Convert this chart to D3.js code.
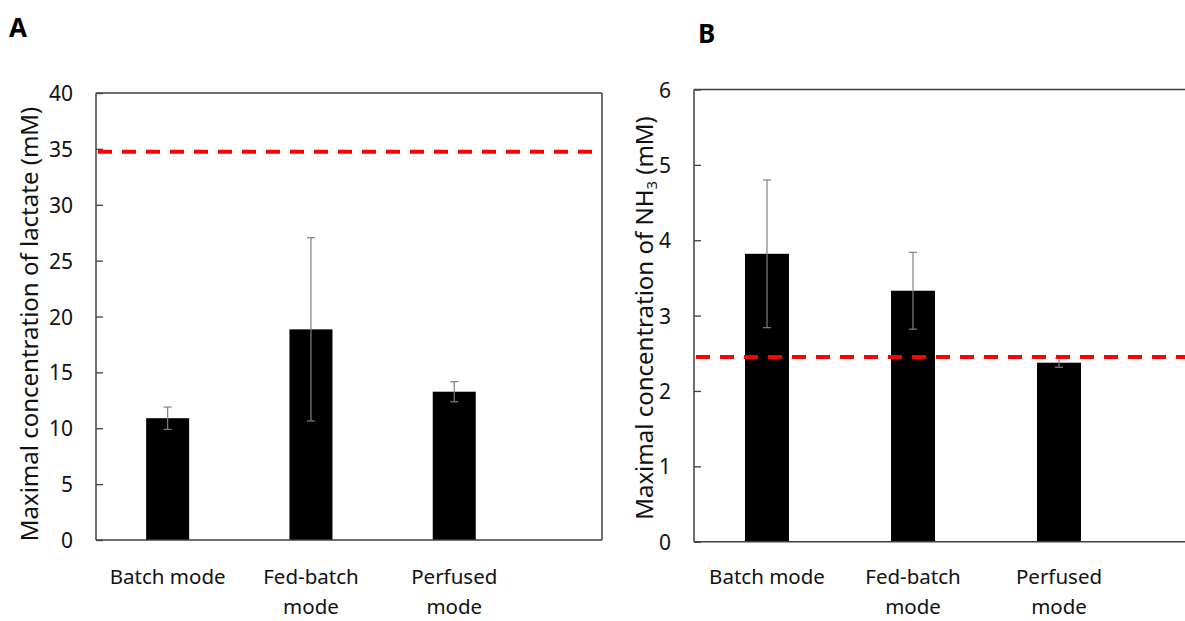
<!DOCTYPE html>
<html>
<head>
<meta charset="utf-8">
<script src="https://cdn.jsdelivr.net/npm/d3@7"></script>
<style>
  html, body { margin: 0; padding: 0; background: #fff; }
  svg { display: block; }
  svg text { font-family: "Noto Sans", "Open Sans", Lato, sans-serif; }
</style>
</head>
<body>
<svg id="chart" width="1185" height="621"></svg>
<script>
// ---- data ----
const categories = ["Batch mode", "Fed-batch mode", "Perfused mode"];
const categoryLabelLines = [["Batch mode"], ["Fed-batch", "mode"], ["Perfused", "mode"]];

const lactateValues = [10.9, 18.85, 13.27];
const lactateErrors = [1.0, 8.2, 0.9];
const lactateLimit = 34.75;
const lactateTicks = [0, 5, 10, 15, 20, 25, 30, 35, 40];

const ammoniaValues = [3.82, 3.33, 2.375];
const ammoniaErrors = [0.98, 0.51, 0.06];
const ammoniaLimit = 2.45;
const ammoniaTicks = [0, 1, 2, 3, 4, 5, 6];

const svg = d3.select("#chart");

function drawPanel(cfg) {
  const g = svg.append("g");
  const x = d3.scaleBand().domain(categories)
    .range([cfg.left, cfg.left + cfg.step * categories.length]).padding(0);
  const y = d3.scaleLinear().domain([0, cfg.yMax]).range([cfg.bottom, cfg.top]);
  const barW = cfg.barW;

  // bars
  g.selectAll("rect.bar").data(cfg.values).join("rect")
    .attr("class", "bar")
    .attr("x", (d, i) => x(categories[i]) + x.bandwidth() / 2 - barW / 2)
    .attr("y", d => y(d))
    .attr("width", barW)
    .attr("height", d => y(0) - y(d))
    .attr("fill", "#000");

  // error bars
  const eb = g.selectAll("g.err").data(cfg.values).join("g").attr("class", "err")
    .attr("stroke", "#808080").attr("stroke-width", 1.2).attr("fill", "none");
  eb.append("line")
    .attr("x1", (d, i) => x(categories[i]) + x.bandwidth() / 2)
    .attr("x2", (d, i) => x(categories[i]) + x.bandwidth() / 2)
    .attr("y1", (d, i) => y(d - cfg.errors[i]))
    .attr("y2", (d, i) => y(d + cfg.errors[i]));
  [-1, 1].forEach(s => {
    eb.append("line")
      .attr("x1", (d, i) => x(categories[i]) + x.bandwidth() / 2 - 4)
      .attr("x2", (d, i) => x(categories[i]) + x.bandwidth() / 2 + 4)
      .attr("y1", (d, i) => y(d + s * cfg.errors[i]))
      .attr("y2", (d, i) => y(d + s * cfg.errors[i]));
  });

  // y axis (inward ticks)
  const yAxis = d3.axisLeft(y).tickValues(cfg.ticks).tickFormat(d3.format("d"))
    .tickSizeInner(-7).tickSizeOuter(0).tickPadding(23);
  const ya = g.append("g").attr("transform", `translate(${cfg.left},0)`).call(yAxis);
  ya.select(".domain").remove();
  ya.attr("font-family", null).attr("font-size", null);
  ya.selectAll(".tick line").attr("stroke", "#404040").attr("stroke-width", 1.3);
  ya.selectAll(".tick text").attr("fill", "#111").style("font-size", "21px")
    .attr("dy", "0.36em");

  // frame
  const frame = [[cfg.left, cfg.top, cfg.left, cfg.bottom],
                 [cfg.left, cfg.top, cfg.right, cfg.top],
                 [cfg.left, cfg.bottom, cfg.right, cfg.bottom]];
  if (cfg.rightBorder) frame.push([cfg.right, cfg.top, cfg.right, cfg.bottom]);
  g.selectAll("line.frame").data(frame).join("line").attr("class", "frame")
    .attr("x1", d => d[0]).attr("y1", d => d[1]).attr("x2", d => d[2]).attr("y2", d => d[3])
    .attr("stroke", "#404040").attr("stroke-width", 1.5);

  // limit line
  g.append("line").attr("x1", cfg.left + 2).attr("x2", cfg.right - 2)
    .attr("y1", y(cfg.limit)).attr("y2", y(cfg.limit))
    .attr("stroke", "#ff0000").attr("stroke-width", 4)
    .attr("stroke-dasharray", "14,10");

  // x axis labels
  const xAxis = d3.axisBottom(x).tickSize(0).tickPadding(0).tickFormat(() => "");
  const xa = g.append("g").attr("transform", `translate(0,${cfg.bottom})`).call(xAxis);
  xa.attr("font-family", null).attr("font-size", null);
  xa.select(".domain").remove();
  xa.selectAll(".tick text").remove();
  xa.selectAll(".tick").each(function (d, i) {
    const t = d3.select(this).append("text")
      .attr("text-anchor", "middle").attr("fill", "#111")
      .style("font-size", "20.5px");
    categoryLabelLines[i].forEach((line, j) => {
      t.append("tspan").attr("x", 0).attr("y", cfg.labelY + j * 30).text(line);
    });
  });

  // y title
  const title = g.append("text")
    .attr("transform", `translate(${cfg.titleX},${cfg.titleY}) rotate(-90)`)
    .attr("text-anchor", "middle").attr("fill", "#111")
    .style("font-size", cfg.titleSize + "px");
  cfg.titleParts.forEach(p => {
    const ts = title.append("tspan").text(p.t);
    if (p.sub) ts.attr("dy", "0.25em").style("font-size", (cfg.titleSize * 0.62) + "px");
    if (p.after) ts.attr("dy", "-0.15em");
  });

  // panel letter
  g.append("text").attr("x", cfg.letterX).attr("y", cfg.letterY)
    .attr("fill", "#000").style("font-size", "26px").style("font-weight", "bold")
    .text(cfg.letter);
}

drawPanel({
  left: 96, right: 602, top: 93, bottom: 540, step: 143.3, barW: 43,
  yMax: 40, ticks: lactateTicks, values: lactateValues, errors: lactateErrors,
  limit: lactateLimit, rightBorder: true, labelY: 44,
  titleX: 38, titleY: 324, titleSize: 24,
  titleParts: [{ t: "Maximal concentration of lactate (mM)" }],
  letter: "A", letterX: 9, letterY: 37
});

drawPanel({
  left: 694, right: 1220, top: 89.5, bottom: 541.7, step: 146, barW: 44,
  yMax: 6, ticks: ammoniaTicks, values: ammoniaValues, errors: ammoniaErrors,
  limit: ammoniaLimit, rightBorder: false, labelY: 42,
  titleX: 653, titleY: 318, titleSize: 24,
  titleParts: [{ t: "Maximal concentration of NH" }, { t: "3", sub: true }, { t: " (mM)", after: true }],
  letter: "B", letterX: 698, letterY: 43
});
</script>
</body>
</html>
